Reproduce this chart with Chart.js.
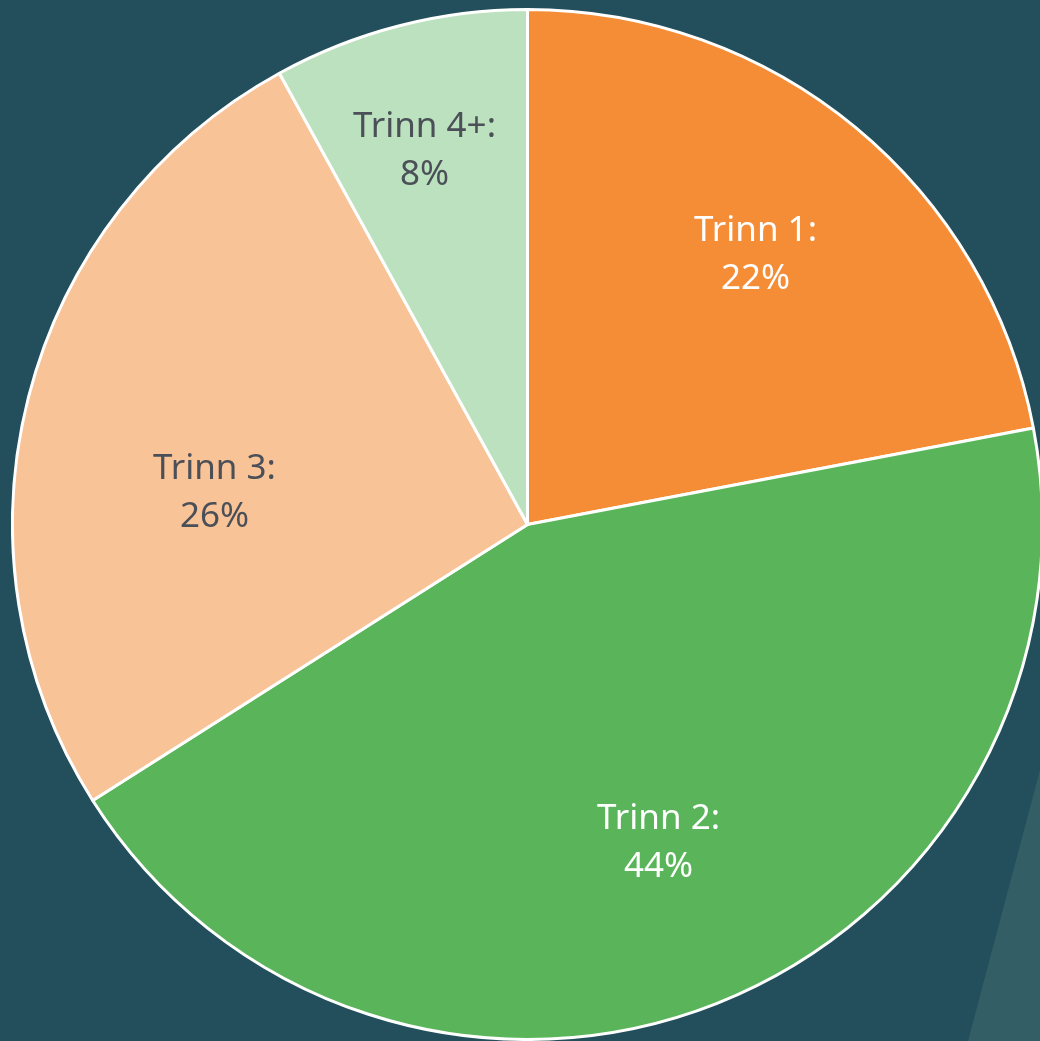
<!DOCTYPE html>
<html>
<head>
<meta charset="utf-8">
<script src="https://cdn.jsdelivr.net/npm/chart.js@4.4.0/dist/chart.umd.min.js"></script>
<style>
  html, body { margin: 0; padding: 0; width: 1040px; height: 1041px; overflow: hidden; background: #224f5b; }
  #stripe { position: absolute; left: 0; top: 0; width: 1040px; height: 1041px; background: #335e66;
    clip-path: polygon(1040px 770px, 1040px 1041px, 968px 1041px); }
  #wrap { position: absolute; left: 10.5px; top: 7.5px; width: 1033px; height: 1033px; }
</style>
</head>
<body>
<div id="stripe"></div>
<div id="wrap"><canvas id="myChart" width="1033" height="1033"></canvas></div>
<script>
// data
const labels = ['Trinn 1', 'Trinn 2', 'Trinn 3', 'Trinn 4+'];
const shares = [22, 44, 26, 8];
const colors = ['#f58d37', '#5ab55a', '#f9c398', '#bbe1be'];
const textColors = ['#ffffff', '#ffffff', '#4b4f57', '#4b4f57'];
// label placement (fraction of radius, angle shift in degrees)
const labelRadius = [0.686, 0.668, 0.611, 0.753];
const labelShift = [0.6, -0.8, -8.6, -1];

const sliceLabels = {
  id: 'sliceLabels',
  afterDatasetsDraw(chart) {
    const c = chart.ctx;
    const arcs = chart.getDatasetMeta(0).data;
    c.save();
    c.font = '35px "Noto Sans", "Open Sans", sans-serif';
    c.textAlign = 'center';
    c.textBaseline = 'middle';
    arcs.forEach((arc, i) => {
      const mid = (arc.startAngle + arc.endAngle) / 2 + labelShift[i] * Math.PI / 180;
      const r = arc.outerRadius * labelRadius[i];
      const x = arc.x + Math.cos(mid) * r;
      const y = arc.y + Math.sin(mid) * r;
      c.fillStyle = textColors[i];
      c.fillText(labels[i] + ':', x, y - 24);
      c.fillText(shares[i] + '%', x, y + 24);
    });
    c.restore();
  }
};

const ctx = document.getElementById('myChart').getContext('2d');
new Chart(ctx, {
  type: 'pie',
  data: {
    labels: labels,
    datasets: [{
      data: shares,
      backgroundColor: colors,
      borderColor: '#ffffff',
      borderWidth: 3
    }]
  },
  options: {
    responsive: false,
    animation: false,
    layout: { padding: 0 },
    plugins: {
      legend: { display: false },
      tooltip: { enabled: false }
    }
  },
  plugins: [sliceLabels]
});
</script>
</body>
</html>
